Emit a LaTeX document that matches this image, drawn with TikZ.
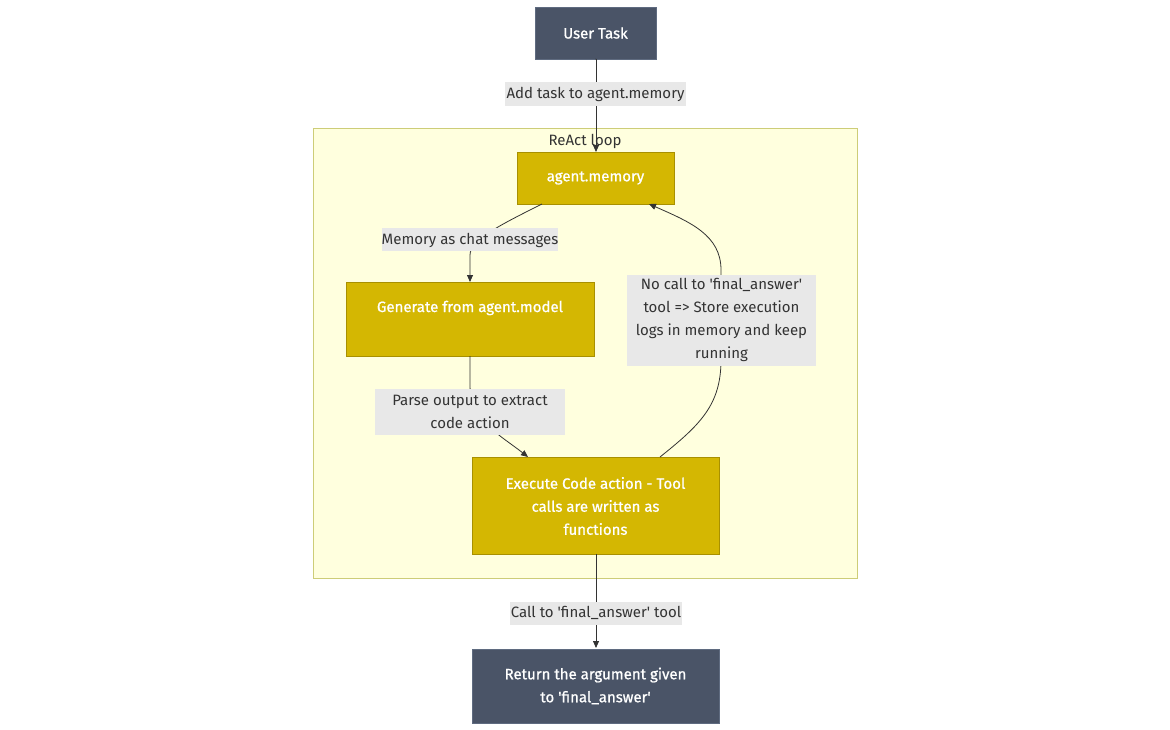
\documentclass[tikz,border=0pt]{standalone}
\usepackage{fontspec}
\setmainfont{Fira Sans}
\newfontfamily\boldish[FakeBold=0.9]{Fira Sans}
\usetikzlibrary{arrows.meta}
\definecolor{darkbox}{HTML}{4A5467}
\definecolor{darkline}{HTML}{5F6B80}
\definecolor{gold}{HTML}{D4B702}
\definecolor{goldline}{HTML}{A89000}
\definecolor{clusterfill}{HTML}{FFFFDE}
\definecolor{clusterline}{HTML}{CDCD78}
\definecolor{lblbg}{HTML}{E8E8E8}
\definecolor{txt}{HTML}{333333}
\newcommand{\sq}{\textquotesingle}
\tikzset{
  every node/.style={font=\fontsize{15}{23}\selectfont},
  whitetext/.style={text=white, font=\boldish\fontsize{15}{23}\selectfont},
  darknode/.style={draw=darkline, fill=darkbox, whitetext, align=center, inner sep=0pt},
  goldnode/.style={draw=goldline, fill=gold, whitetext, align=center, inner sep=0pt},
  lbl/.style={fill=lblbg, text=txt, align=center, inner sep=0pt},
  conn/.style={draw=txt, line width=0.8pt, -{Triangle[length=7pt,width=6pt]}},
  plainconn/.style={draw=txt, line width=0.8pt},
}
\begin{document}
\begin{tikzpicture}[x=1pt,y=-1pt]
\useasboundingbox (0,0) rectangle (1170,730);
% cluster
\draw[fill=clusterfill, draw=clusterline, line width=0.8pt] (313,128) rectangle (857,578);
\node[text=txt] (title) at (585,141) {ReAct loop};
% nodes
\node[darknode, minimum width=121pt, minimum height=52pt] (user) at (595.5,33) {User Task};
\node[goldnode, minimum width=157pt, minimum height=52pt] (mem) at (595.5,178) {agent.memory};
\node[goldnode, minimum width=248pt, minimum height=74pt] (gen) at (470,319) {};
\node[whitetext] (gentext) at (470,308) {Generate from agent.model};
\node[goldnode, minimum width=247pt, minimum height=97pt] (exec) at (595.5,506) {Execute Code action - Tool\\calls are written as\\functions};
\node[darknode, minimum width=247pt, minimum height=74pt] (ret) at (595.5,686) {Return the argument given\\to \sq final\_answer\sq};
% edges
\coordinate (u0) at (596,59);
\coordinate (m0) at (596,152);
\draw[plainconn] (user.south) -- (u0);
\draw[conn] (u0) -- (m0);
\coordinate (ms) at (542,204);
\coordinate (gt) at (470,282);
\draw[conn] (ms) .. controls (500,225) and (470,240) .. (470,255) -- (gt);
\coordinate (gb) at (470,356);
\coordinate (et) at (528,457);
\draw[conn] (gb) -- (470,385) .. controls (470,420) and (500,435) .. (et);
\coordinate (etr) at (660,457);
\coordinate (mbr) at (649,204);
\draw[conn] (etr) .. controls (700,425) and (721,405) .. (721,360) -- (721,270) .. controls (721,235) and (690,222) .. (mbr);
\coordinate (eb) at (596,554);
\coordinate (rt) at (596,648);
\draw[conn] (eb) -- (rt);
% labels
\node[lbl, minimum width=181pt, minimum height=24pt] (l1) at (595.5,94.5) {Add task to agent.memory};
\node[lbl, minimum width=174pt, minimum height=23pt] (l2) at (470,240) {Memory as chat messages};
\node[lbl, minimum width=190pt, minimum height=46pt] (l3) at (470,411.5) {Parse output to extract\\code action};
\node[lbl, minimum width=189pt, minimum height=91pt] (l4) at (721.5,320) {No call to \sq final\_answer\sq\\tool => Store execution\\logs in memory and keep\\running};
\node[lbl, minimum width=172pt, minimum height=23pt] (l5) at (596,613) {Call to \sq final\_answer\sq{} tool};
\end{tikzpicture}
\end{document}
